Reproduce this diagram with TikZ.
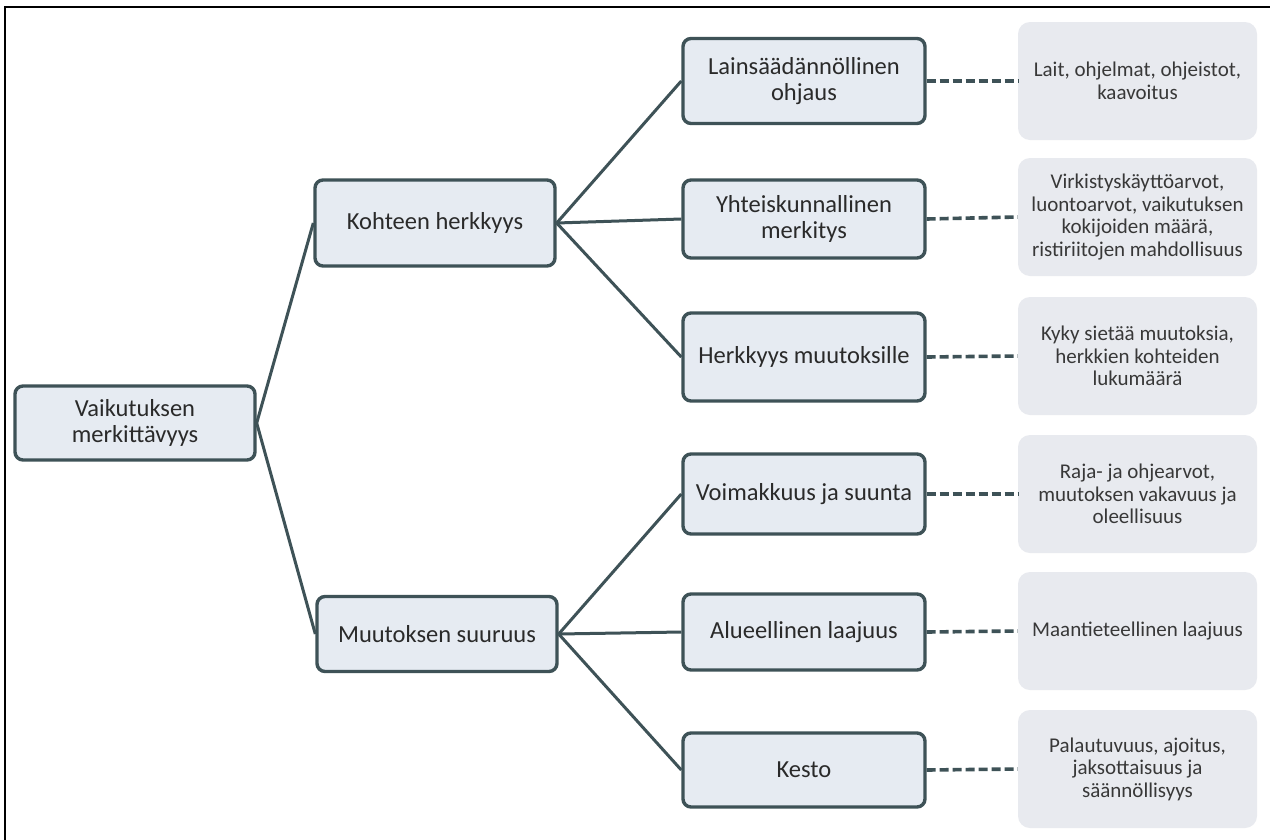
\documentclass[tikz,border=0pt]{standalone}
\usepackage{fontspec}
\setmainfont{Carlito}
\definecolor{boxfill}{HTML}{E6EBF2}
\definecolor{boxline}{HTML}{3E5257}
\definecolor{leaffill}{HTML}{E8EAEF}
\definecolor{txt}{HTML}{2A2A2A}
\definecolor{leaftxt}{HTML}{383838}
\tikzset{
  mainbox/.style={draw=boxline, line width=3.4pt, fill=boxfill, rounded corners=8pt,
    minimum width=240pt, inner sep=0pt, align=center, text=txt,
    font=\fontsize{24.5}{26.5}\selectfont},
  leafbox/.style={fill=leaffill, rounded corners=12pt, minimum width=239pt,
    minimum height=118pt, inner sep=0pt, align=center, text=leaftxt,
    font=\fontsize{21}{22.5}\selectfont},
  link/.style={draw=boxline, line width=3pt},
  dlink/.style={draw=boxline, line width=3.6pt, dash pattern=on 9pt off 4pt}
}
\begin{document}
\begin{tikzpicture}[x=1pt,y=-1pt]
\useasboundingbox (0,0) rectangle (1270,839);
\fill[white] (0,0) rectangle (1270,839);
\draw[black, line width=2.2pt] (5,850) -- (5,7) -- (1280,7);

\node[mainbox, minimum height=74pt] (root) at (135,423) {Vaikutuksen\\merkittävyys};
\node[mainbox, minimum height=86pt] (koh) at (435,223) {Kohteen herkkyys};
\node[mainbox, minimum height=75pt] (muu) at (437,634) {Muutoksen suuruus};

\node[mainbox, minimum width=242pt, minimum height=85pt] (lai) at (804,81) {Lainsäädännöllinen\\ohjaus};
\node[mainbox, minimum width=242pt, minimum height=78pt] (yht) at (804,219) {Yhteiskunnallinen\\merkitys};
\node[mainbox, minimum width=242pt, minimum height=88pt] (her) at (804,357) {Herkkyys muutoksille};
\node[mainbox, minimum width=242pt, minimum height=80pt] (voi) at (804,494) {Voimakkuus ja suunta};
\node[mainbox, minimum width=242pt, minimum height=76pt] (alu) at (804,632) {Alueellinen laajuus};
\node[mainbox, minimum width=242pt, minimum height=74pt] (kes) at (804,770) {Kesto};

\node[leafbox] (l1) at (1137.5,81) {Lait, ohjelmat, ohjeistot,\\kaavoitus};
\node[leafbox] (l2) at (1137.5,217) {Virkistyskäyttöarvot,\\luontoarvot, vaikutuksen\\kokijoiden määrä,\\ristiriitojen mahdollisuus};
\node[leafbox] (l3) at (1137.5,356) {Kyky sietää muutoksia,\\herkkien kohteiden\\lukumäärä};
\node[leafbox] (l4) at (1137.5,494) {Raja- ja ohjearvot,\\muutoksen\ vakavuus ja\\oleellisuus};
\node[leafbox] (l5) at (1137.5,631) {Maantieteellinen laajuus};
\node[leafbox] (l6) at (1137.5,769) {Palautuvuus, ajoitus,\\jaksottaisuus ja\\säännöllisyys};

\draw[link] (root.east) -- (koh.west);
\draw[link] (root.east) -- (muu.west);
\foreach \c in {lai,yht,her} \draw[link] (koh.east) -- (\c.west);
\foreach \c in {voi,alu,kes} \draw[link] (muu.east) -- (\c.west);
\draw[dlink] (lai.east) -- (l1.west);
\draw[dlink] (yht.east) -- (l2.west);
\draw[dlink] (her.east) -- (l3.west);
\draw[dlink] (voi.east) -- (l4.west);
\draw[dlink] (alu.east) -- (l5.west);
\draw[dlink] (kes.east) -- (l6.west);
\end{tikzpicture}
\end{document}
